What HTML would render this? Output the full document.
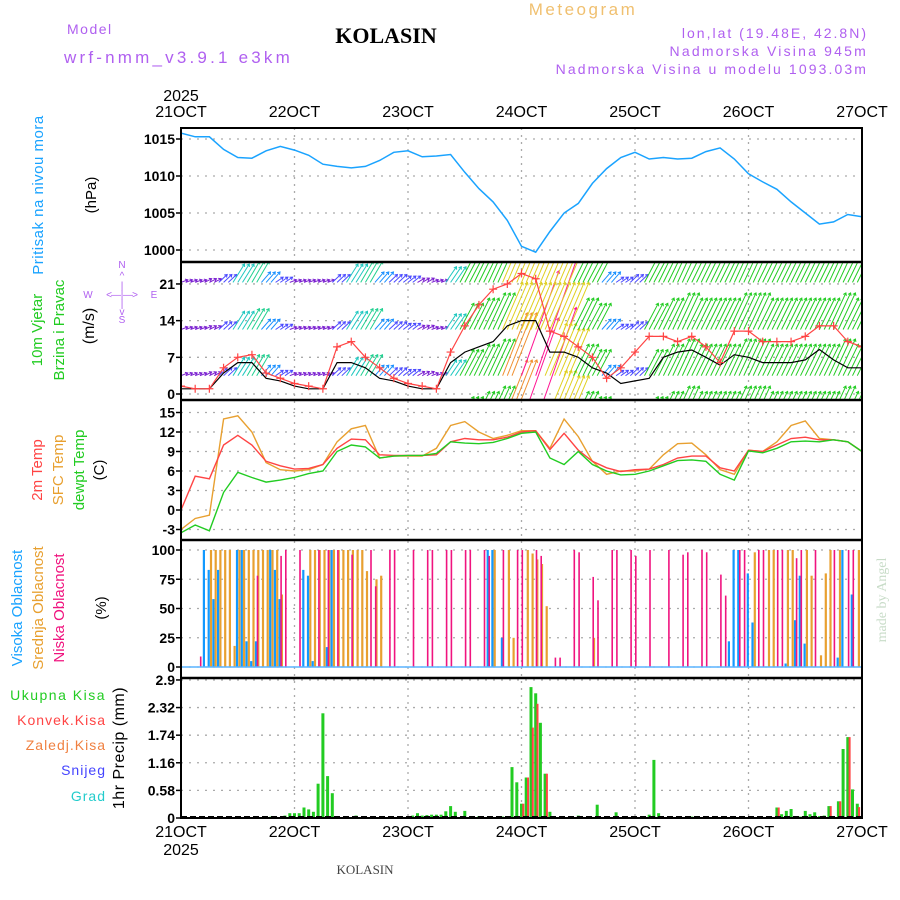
<!DOCTYPE html>
<html><head><meta charset="utf-8">
<style>
html,body{margin:0;padding:0;background:#fff;}
svg{display:block;font-family:"Liberation Sans",sans-serif;}
</style></head>
<body>
<svg id="chart" width="900" height="900" viewBox="0 0 900 900" xmlns="http://www.w3.org/2000/svg">
<rect x="0" y="0" width="900" height="900" fill="#fff"/>
<g>
<text x="583" y="15" font-size="17" fill="#f0c070" text-anchor="middle" letter-spacing="2.5">Meteogram</text>
<text x="67" y="34" font-size="14" fill="#b060f0" letter-spacing="1.5">Model</text>
<text x="64" y="63" font-size="17" fill="#b060f0" letter-spacing="3.2">wrf-nmm_v3.9.1 e3km</text>
<text x="386" y="43" font-size="22" font-weight="bold" fill="#000" text-anchor="middle" font-family="Liberation Serif, serif">KOLASIN</text>
<text x="868" y="38" font-size="14" fill="#b060f0" text-anchor="end" letter-spacing="2">lon,lat (19.48E, 42.8N)</text>
<text x="868" y="56" font-size="14" fill="#b060f0" text-anchor="end" letter-spacing="2.2">Nadmorska Visina 945m</text>
<text x="868" y="74" font-size="14" fill="#b060f0" text-anchor="end" letter-spacing="2.1">Nadmorska Visina u modelu 1093.03m</text>
</g>
<g id="grid"></g>
<g id="marks"></g>
<g id="frames"></g>
<g id="labels">
<text transform="translate(43,195) rotate(-90)" font-size="15" fill="#1aa3ff" text-anchor="middle" letter-spacing="0.5">Pritisak na nivou mora</text>
<text transform="translate(96,195) rotate(-90)" font-size="15" fill="#000" text-anchor="middle">(hPa)</text>
<text transform="translate(42,330) rotate(-90)" font-size="15" fill="#22cc22" text-anchor="middle">10m Vjetar</text>
<text transform="translate(64,330) rotate(-90)" font-size="15" fill="#22cc22" text-anchor="middle">Brzina i Pravac</text>
<text transform="translate(94,326) rotate(-90)" font-size="16" fill="#000" text-anchor="middle">(m/s)</text>
<g fill="#b060f0" font-size="10" text-anchor="middle">
<text x="122" y="268">N</text><text x="122" y="279">^</text><text x="122" y="289">|</text>
<text x="88" y="298">W</text><text x="109" y="298">&lt;</text><text x="116" y="298">—</text><text x="122" y="298">|</text><text x="128" y="298">—</text><text x="135" y="298">&gt;</text><text x="154" y="298">E</text>
<text x="122" y="307">|</text><text x="122" y="315">v</text><text x="122" y="323">S</text>
</g>
<text transform="translate(42,470) rotate(-90)" font-size="15" fill="#ff4444" text-anchor="middle">2m Temp</text>
<text transform="translate(63,470) rotate(-90)" font-size="15" fill="#e8a030" text-anchor="middle">SFC Temp</text>
<text transform="translate(84,470) rotate(-90)" font-size="15" fill="#22cc22" text-anchor="middle">dewpt Temp</text>
<text transform="translate(104,470) rotate(-90)" font-size="15" fill="#000" text-anchor="middle">(C)</text>
<text transform="translate(22,608) rotate(-90)" font-size="15" fill="#1aa3ff" text-anchor="middle">Visoka Oblacnost</text>
<text transform="translate(43,608) rotate(-90)" font-size="15" fill="#e8a030" text-anchor="middle">Srednja Oblacnost</text>
<text transform="translate(64,608) rotate(-90)" font-size="15" fill="#f0147f" text-anchor="middle">Niska Oblacnost</text>
<text transform="translate(106,608) rotate(-90)" font-size="15" fill="#000" text-anchor="middle">(%)</text>
<text x="106" y="700" font-size="14" fill="#22cc22" text-anchor="end" letter-spacing="1.5">Ukupna Kisa</text>
<text x="106" y="725" font-size="14" fill="#ff4444" text-anchor="end" letter-spacing="1">Konvek.Kisa</text>
<text x="106" y="750" font-size="14" fill="#f08040" text-anchor="end" letter-spacing="1">Zaledj.Kisa</text>
<text x="106" y="775" font-size="14" fill="#4444ff" text-anchor="end" letter-spacing="1">Snijeg</text>
<text x="106" y="801" font-size="14" fill="#22cccc" text-anchor="end" letter-spacing="1">Grad</text>
<text transform="translate(124,748) rotate(-90)" font-size="16" fill="#000" text-anchor="middle" letter-spacing="0.5">1hr Precip (mm)</text>
<text transform="translate(886,600) rotate(-90)" font-size="14" fill="#c8dcc8" text-anchor="middle" font-family="Liberation Serif, serif">made by Angel</text>
<text x="365" y="874" font-size="13" fill="#444" text-anchor="middle" font-family="Liberation Serif, serif">KOLASIN</text>
</g>
</svg>
<script>
// ---------- data ----------
const dayLabels = ["21OCT","22OCT","23OCT","24OCT","25OCT","26OCT","27OCT"];
const yearLabel = "2025";
const pressTicks = [1015,1010,1005,1000];
const windTicks = [21,14,7,0];
const tempTicks = [15,12,9,6,3,0,-3];
const cloudTicks = [100,75,50,25,0];
const precipTicks = [2.9,2.32,1.74,1.16,0.58,0];
// 3-hourly series (49 points, 21OCT 00 .. 27OCT 00)
const pressure = [1015.8,1015.3,1015.3,1013.6,1012.5,1012.4,1013.4,1014,1013.5,1012.8,1011.6,1011.3,1011.1,1011.3,1012.1,1013.2,1013.4,1012.6,1012.7,1012.9,1010.5,1008.3,1006.5,1004,1000.5,999.7,1002.5,1005,1006.3,1009,1011,1012.5,1013.2,1012.3,1012.5,1012.3,1012.4,1013.3,1013.8,1012.3,1010.3,1009.2,1008.2,1006.5,1005,1003.5,1003.8,1004.8,1004.5];
const windMean = [1,1,1,4,6,6,3,2.5,1.5,1,1,6,6,5,3,2.5,1.5,1,1,6,8,9,10,13,14,14,8,8,7,5,4,2,2.5,3,7,8,8.4,7,5.5,7.5,7,6,6,6,6.5,8.5,6.5,5,5];
const windGust = [1.5,1,1,5,7,7.5,4,3,2,1.5,1,9,10,7,5,3,2,1.5,1,8,13,17,20,21,23,22,12,11,9,7,3,5,8,11,11,10,11,9,6,12,12,10,10,10,11,13,13,10,9];
const windExt = [0.5,0.5,0.7,1.5,3.5,4,2,1,0.5,0.5,0.5,1.5,3.5,4,2,1.5,1.2,0.8,0.5,3,5,6,7,12,20,22,10,9,6,5,2,1,1.5,5,6,7,6,6,6,7,7,6,6,6,6,6,7,6,6];
const temp2m = [0,5.2,4.8,10,11.5,10,7.5,6.8,6.3,6.4,7,9.5,10.9,10.8,8.5,8.4,8.4,8.4,8.5,10.5,11,10.8,10.8,11.2,12,12.2,9.3,11.8,9.2,7.5,6.5,5.9,6.2,6.3,7,8,8.3,8.3,6.5,6,9.2,9,10,11,11.2,10.8,10.8,10.5,9];
const tempSfc = [-3,-1.3,-0.8,14,14.5,12,7.3,6.2,6,6.2,7,10.5,12.5,13,8,8.3,8.3,8.3,9.5,13,13.6,12,11,11.5,12.2,12.2,9.5,14,11.3,7.5,5.5,6,6,6.3,8.5,10.2,10.3,8.5,6.2,5.5,9.2,9,10.5,13,13.7,11,10.8,10.5,9];
const tempDew = [-3.5,-2.3,-3.2,2.7,5.8,5,4.3,4.6,5,5.6,6,9,10,9.7,8,8.3,8.4,8.4,8.7,10.5,10.3,10.2,10.4,11,11.8,12,8,7,9,7,6,5.4,5.5,6,6.8,7.6,7.7,7.5,5.5,4.6,9.1,8.8,9.5,10.5,10.6,10.5,10.8,10.5,9];
// hourly cloud events (hour index, percent)
const lowCloudHours = [4,16,21,22,25,29,31,33,36,40,41,44,45,49,52,53,56,57,60,61,64,65,68,71,72,75,76,79,80,83,84,87,88,91,92,95,96,99,103,106,107,110,111,114,115,118,119,122,123,126,127,130,131,134,138,141,142];
const lowCloudVals  = [9,78,95,100,100,100,100,100,96,100,69,100,100,100,100,100,100,100,100,100,100,95,100,100,100,100,95,8,8,100,98,77,57,100,100,100,95,100,100,96,98,100,98,79,61,100,100,100,100,100,100,93,100,100,100,100,100];
const midCloudHours = [6,7,8,9,10,11,12,13,14,15,16,17,18,19,20,21,27,28,29,30,31,32,33,34,35,36,37,38,39,41,42,66,69,70,73,74,75,76,77,87,121,124,125,128,129,132,133,135,136,137,139,143];
const midCloudVals  = [100,100,100,100,100,18,100,100,100,100,100,100,100,100,100,62,100,100,100,100,100,100,100,100,100,100,100,100,82,75,78,100,100,25,100,97,92,88,52,25,98,100,100,100,100,100,78,10,80,100,100,100];
const highCloudHours = [5,6,7,8,12,13,14,15,16,19,20,21,26,27,28,31,32,65,66,68,116,117,118,120,121,128,130,131,132,139,140,142];
const highCloudVals  = [100,83,58,83,100,100,22,5,22,100,83,58,83,78,5,17,100,100,100,25,22,100,100,80,38,3,40,78,20,8,100,62];
// hourly precip events
const rainHours = [19,20,22,23,24,25,26,27,28,29,30,31,32,33,35,37,49,50,51,52,53,54,55,56,57,58,60,63,65,68,70,71,72,73,74,75,76,77,78,84,88,92,99,100,101,105,108,119,126,127,128,129,130,131,132,133,134,135,136,137,139,140,141,142,143];
const rainTotal = [0.03,0.03,0.05,0.1,0.1,0.1,0.22,0.18,0.13,0.72,2.2,0.88,0.52,0.03,0.03,0.05,0.05,0.1,0.05,0.06,0.07,0.07,0.07,0.14,0.25,0.13,0.15,0.04,0.03,0.03,1.07,0.75,0.3,0.85,2.75,2.62,2.0,0.93,0.13,0.05,0.28,0.12,0.07,1.22,0.1,0.03,0.03,0.02,0.22,0.08,0.15,0.19,0.04,0.03,0.15,0.08,0.12,0.04,0.05,0.25,0.35,1.45,1.7,0.6,0.3];
const convHours = [72,73,74,75,77,126,137,139,141,143,144];
const convVals  = [0.3,0.85,1.9,2.4,0.93,0.22,0.25,0.35,1.7,0.23,0.4];

// ---------- scales ----------
const X0=181, X1=862, HOURS=144;
const xH = h => X0 + h*(X1-X0)/HOURS;
const x3 = i => xH(i*3);
const yP = p => 139 + (1015-p)*7.4;
const yW = v => 394 - v*5.24;
const yT = t => 510 - t*6.5;
const yC = c => 667 - c*1.17;
const yR = r => 818 - r*47.6;
const panels = [[128,262],[262,400],[400,540],[540,678],[678,818]];
const NS="http://www.w3.org/2000/svg";
function mk(tag, attrs, parent){const e=document.createElementNS(NS,tag);for(const k in attrs)e.setAttribute(k,attrs[k]);parent.appendChild(e);return e;}
const grid=document.getElementById('grid'), marks=document.getElementById('marks'), frames=document.getElementById('frames');

const defs = mk('defs',{},document.getElementById('chart'));
panels.forEach((p,i)=>{const c=mk('clipPath',{id:'clip'+i},defs);mk('rect',{x:X0,y:p[0],width:X1-X0,height:p[1]-p[0]},c);});

// ---------- grid + ticks ----------
function hgrid(ticks, ys, fmt, name){
  ticks.forEach(t=>{
    const y=ys(t);
    const l=mk('line',{x1:X0,x2:X1,y1:y,y2:y,stroke:'#aaa','stroke-width':1.3,'stroke-dasharray':'2,6'},grid);
    
    
    mk('line',{x1:X0-5,x2:X0,y1:y,y2:y,stroke:'#000','stroke-width':1.5},frames);
    const tx=mk('text',{x:X0-6,y:y+5,'font-size':14,'text-anchor':'end',fill:'#000','font-weight':'bold'},frames);
    tx.textContent=fmt(t);
    
    
  });
}
hgrid(pressTicks,yP,t=>t,'pressure');
hgrid(windTicks,yW,t=>t,'wind');
hgrid(tempTicks,yT,t=>t,'temp');
hgrid(cloudTicks,yC,t=>t,'cloud');
hgrid(precipTicks,yR,t=>t,'precip');
dayLabels.forEach((d,i)=>{
  const x=xH(i*24);
  if(i>0&&i<dayLabels.length-1){
    const l=mk('line',{x1:x,x2:x,y1:128,y2:818,stroke:'#aaa','stroke-width':1.3,'stroke-dasharray':'2,5'},grid);
    
    
  }
  const t1=mk('text',{x:x,y:117,'font-size':16,'text-anchor':'middle',fill:'#000'},frames);
  t1.textContent=d;
  
  
  const t2=mk('text',{x:x,y:837,'font-size':16,'text-anchor':'middle',fill:'#000'},frames);
  t2.textContent=d;
  
  
});
[[x3(0),101],[x3(0),855]].forEach(p=>{
  const t=mk('text',{x:p[0],y:p[1],'font-size':16,'text-anchor':'middle',fill:'#000'},frames);
  t.textContent=yearLabel;
  
  
});

function line(vals, ys, color, name, clip, w){
  const d=vals.map((v,i)=>(i?'L':'M')+x3(i).toFixed(1)+','+ys(v).toFixed(1)).join('');
  const p=mk('path',{d:d,fill:'none',stroke:color,'stroke-width':w||1.4,'clip-path':'url(#clip'+clip+')'},marks);
  
  
  return p;
}
line(pressure,yP,'#1aa3ff','pressure-line',0,1.5);

// wind arrows
function windColor(e){
  if(e<1)return '#7a1fd0'; if(e<2)return '#4a4aff'; if(e<3)return '#1a90ff'; if(e<4)return '#20c8c0';
  if(e<5)return '#20d090'; if(e<7.5)return '#22cc22'; if(e<9)return '#a0d020'; if(e<11)return '#e0d020';
  if(e<15)return '#f09030'; return '#ff1493';
}
const windRows=[-5.5,3.5,12.3,21.3];
const rowCap=[30,30,9,9];
const gW=mk('g',{'clip-path':'url(#clip1)'},marks);


windRows.forEach((base,ri)=>{
  for(let h=0;h<HOURS;h++){
    const e=Math.min(rowCap[ri],windExt[Math.min(48,Math.round(h/3))]);
    if(e>14 && h%3!==0) continue;
    const x=xH(h), y=yW(base);
    const dy=e*5.24, dx=6+dy*0.3;
    const col=windColor(e);
    const ang=Math.atan2(-dy,dx), L=3;
    const ex=x+dx, ey=y-dy;
    const a=mk('path',{d:`M${x.toFixed(1)},${y.toFixed(1)}L${ex.toFixed(1)},${ey.toFixed(1)}M${(ex-L*Math.cos(ang-0.6)).toFixed(1)},${(ey-L*Math.sin(ang-0.6)).toFixed(1)}L${ex.toFixed(1)},${ey.toFixed(1)}L${(ex-L*Math.cos(ang+0.6)).toFixed(1)},${(ey-L*Math.sin(ang+0.6)).toFixed(1)}`,fill:'none',stroke:col,'stroke-width':1},gW);
    
    
  }
});
line(windMean,yW,'#000','wind-speed-line',1,1.2);
line(windGust,yW,'#ff4444','wind-gust-line',1,1.2);
windGust.forEach((v,i)=>{
  const x=x3(i), y=yW(v);
  const m=mk('path',{d:`M${x-4},${y}H${x+4}M${x},${y-4}V${y+4}`,stroke:'#ff4444','stroke-width':1.2,'clip-path':'url(#clip1)'},marks);
  
  
});

line(tempSfc,yT,'#e8a030','sfc-temp-line',2,1.4);
line(temp2m,yT,'#ff4444','temp-2m-line',2,1.4);
line(tempDew,yT,'#22cc22','dewpoint-line',2,1.4);

function bars(hours, vals, ys, color, off, w, name, clip){
  hours.forEach((h,i)=>{
    const x=xH(h)+off, y=ys(vals[i]), y0=ys(0);
    const r=mk('rect',{x:x.toFixed(1),y:y.toFixed(1),width:w,height:Math.max(0,y0-y).toFixed(1),fill:color,'clip-path':'url(#clip'+clip+')'},marks);
    
    
  });
}
bars(midCloudHours,midCloudVals,yC,'#e8a030',0.5,2.2,'mid-cloud-bar',3);
bars(highCloudHours,highCloudVals,yC,'#1199ff',-1.8,2.2,'high-cloud-bar',3);
bars(lowCloudHours,lowCloudVals,yC,'#f0147f',0,1.6,'low-cloud-bar',3);
const cb=mk('line',{x1:X0,x2:X1,y1:yC(0),y2:yC(0),stroke:'#5ab4ff','stroke-width':1.5},marks);



bars(rainHours,rainTotal,yR,'#22cc22',-1.5,3,'total-rain-bar',4);
bars(convHours,convVals,yR,'#ff4444',0.8,2,'convective-rain-bar',4);
const pb=mk('line',{x1:X0,x2:X1,y1:817,y2:817,stroke:'#000','stroke-width':2,'stroke-dasharray':'6,3'},marks);



const fr=mk('rect',{x:X0,y:128,width:X1-X0,height:690,fill:'none',stroke:'#000','stroke-width':2},frames);


[262,400,540,678].forEach(y=>{
  const l=mk('line',{x1:X0,x2:X1,y1:y,y2:y,stroke:'#000','stroke-width':2.5},frames);
  
  
});
</script>
</body></html>
